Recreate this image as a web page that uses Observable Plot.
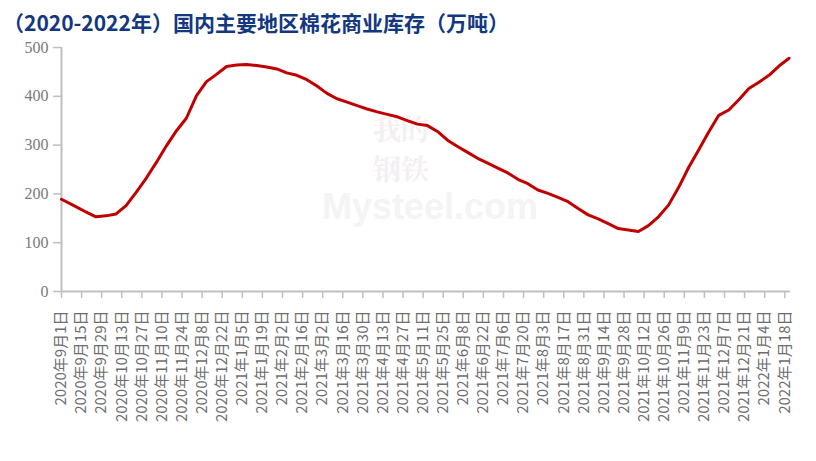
<!DOCTYPE html>
<html>
<head>
<meta charset="utf-8">
<script src="https://cdn.jsdelivr.net/npm/d3@7"></script>
<script src="https://cdn.jsdelivr.net/npm/@observablehq/plot@0.6"></script>
<style>
  html, body { margin: 0; padding: 0; background: #fff; }
  #title { height: 36px; box-sizing: border-box; padding: 7px 0 0 3px; line-height: 30px;
           font-family: "Noto Sans CJK SC", sans-serif; font-weight: bold; font-size: 21px;
           color: #14387f; white-space: nowrap; }
</style>
</head>
<body>
<div id="title">（2020-2022年）国内主要地区棉花商业库存（万吨）</div>
<div id="chart"></div>
<script>
// Data dates (first observation, then weekly Fridays)
const dates = [
  "2020-09-01","2020-09-11","2020-09-18","2020-09-25","2020-10-02","2020-10-09","2020-10-16","2020-10-23","2020-10-30",
  "2020-11-06","2020-11-13","2020-11-20","2020-11-27","2020-12-04","2020-12-11","2020-12-18","2020-12-25",
  "2021-01-01","2021-01-08","2021-01-15","2021-01-22","2021-01-29","2021-02-05","2021-02-12","2021-02-19","2021-02-26",
  "2021-03-05","2021-03-12","2021-03-19","2021-03-26","2021-04-02","2021-04-09","2021-04-16","2021-04-23","2021-04-30",
  "2021-05-07","2021-05-14","2021-05-21","2021-05-28","2021-06-04","2021-06-11","2021-06-18","2021-06-25",
  "2021-07-02","2021-07-09","2021-07-16","2021-07-23","2021-07-30","2021-08-06","2021-08-13","2021-08-20","2021-08-27",
  "2021-09-03","2021-09-10","2021-09-17","2021-09-24","2021-10-01","2021-10-08","2021-10-15","2021-10-22","2021-10-29",
  "2021-11-05","2021-11-12","2021-11-19","2021-11-26","2021-12-03","2021-12-10","2021-12-17","2021-12-24","2021-12-31",
  "2022-01-07","2022-01-14","2022-01-21"
];
// 商业库存 (万吨)
const stock = [
  189,174,163,153,155,159,176,203,232,
  264,298,329,355,401,430,445,461,
  464,465,463,460,456,448,443,434,421,
  406,395,388,381,374,368,363,358,350,
  343,340,328,310,297,285,273,263,
  253,243,230,221,208,201,193,184,170,
  157,149,139,129,126,123,135,153,177,
  213,254,290,327,361,372,393,416,429,
  443,462,478
];
// x tick dates (every two weeks)
const tickDates = [
  "2020-09-01","2020-09-15","2020-09-29","2020-10-13","2020-10-27","2020-11-10","2020-11-24","2020-12-08","2020-12-22",
  "2021-01-05","2021-01-19","2021-02-02","2021-02-16","2021-03-02","2021-03-16","2021-03-30","2021-04-13","2021-04-27",
  "2021-05-11","2021-05-25","2021-06-08","2021-06-22","2021-07-06","2021-07-20","2021-08-03","2021-08-17","2021-08-31",
  "2021-09-14","2021-09-28","2021-10-12","2021-10-26","2021-11-09","2021-11-23","2021-12-07","2021-12-21",
  "2022-01-04","2022-01-18"
];
const yTicks = [0, 100, 200, 300, 400, 500];
const xDomain = ["2020-09-01", "2022-01-22"];

const parse = d3.utcParse("%Y-%m-%d");
const rows = dates.map((d, i) => ({date: parse(d), value: stock[i]}));
const fmt = d => `${d.getUTCFullYear()}年${d.getUTCMonth() + 1}月${d.getUTCDate()}日`;
const axisGray = "#bfbfbf";
const wmFont = "'Noto Serif CJK SC', 'Noto Sans CJK SC', serif";

const chart = Plot.plot({
  width: 816,
  height: 425,
  marginLeft: 61,
  marginRight: 26,
  marginTop: 11,
  marginBottom: 170,
  style: {fontFamily: "'Noto Sans CJK SC', sans-serif", background: "#fff"},
  x: {type: "utc", domain: xDomain.map(parse), label: null},
  y: {domain: [0, 500], label: null},
  marks: [
    // faint watermark
    Plot.text(["我的\n钢铁"], {frameAnchor: "middle", dx: -25, dy: -22, lineHeight: 1.4, fontSize: 28, fontWeight: "bold", fill: "#f3eff2", fontFamily: wmFont}),
    Plot.text(["Mysteel.com"], {frameAnchor: "middle", dx: 4, dy: 38, fontSize: 36, fontWeight: "bold", fill: "#f4f4f4", fontFamily: "'Liberation Sans', sans-serif"}),
    Plot.axisY({ticks: yTicks, label: null, tickSize: 8, tickPadding: 5, fontSize: 16, fill: "#7a7a7a", stroke: axisGray, strokeWidth: 1.5, fontFamily: "'Liberation Serif', serif"}),
    Plot.axisX(tickDates.map(parse), {tickFormat: fmt, label: null, tickRotate: -90, textAnchor: "end", tickSize: 7, tickPadding: 12, fontSize: 15, fill: "#6e6e6e", stroke: axisGray, strokeWidth: 1.5}),
    Plot.ruleX([parse(xDomain[0])], {stroke: axisGray, strokeWidth: 2}),
    Plot.ruleY([0], {stroke: axisGray, strokeWidth: 2}),
    Plot.lineY(rows, {x: "date", y: "value", stroke: "#c00000", strokeWidth: 3})
  ]
});
document.getElementById("chart").appendChild(chart);
</script>
</body>
</html>
